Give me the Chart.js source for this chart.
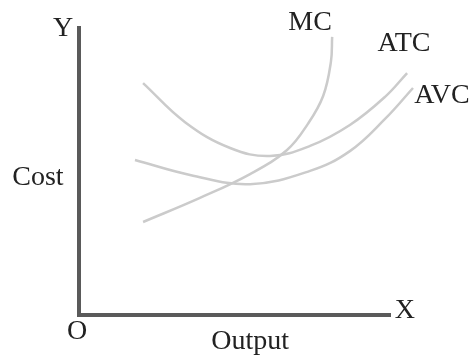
<!DOCTYPE html>
<html>
<head>
<meta charset="utf-8">
<script src="https://cdn.jsdelivr.net/npm/chart.js@4"></script>
<style>
    html, body { margin: 0; padding: 0; background: #fff; }
    #wrap { width: 471px; height: 360px; position: relative; }
</style>
</head>
<body>
<div id="wrap"><canvas id="myChart"></canvas></div>
<script>
// cost curves, output on x, cost on y
const atcOutput = [2.06, 3.41, 4.86, 6.14, 7.43, 8.71, 9.84, 10.55];
const atcCost   = [8.08, 6.72, 5.82, 5.54, 5.89, 6.62, 7.60, 8.43];

const avcOutput = [1.80, 3.57, 5.50, 7.43, 8.71, 9.84, 10.74];
const avcCost   = [5.40, 4.88, 4.56, 5.02, 5.71, 6.83, 7.91];

const mcOutput = [2.06, 3.89, 5.50, 6.69, 7.36, 7.85, 8.10, 8.14];
const mcCost   = [3.24, 4.08, 4.91, 5.75, 6.66, 7.63, 8.82, 9.69];

const curveNames = ["ATC", "AVC", "MC"];
const axisTexts = ["Y", "X", "O", "Output", "Cost"];

const toPoints = (xs, ys) => xs.map((x, i) => ({ x: x, y: ys[i] }));

// where each text sits, in chart units
const textSpots = {
    "MC": [7.43, 10.2],
    "ATC": [10.45, 9.44],
    "AVC": [11.67, 7.63],
    "Y": [-0.51, 9.98],
    "X": [10.48, 0.14],
    "O": [-0.06, -0.59],
    "Output": [5.5, -0.94],
    "Cost": [-1.32, 4.77]
};

const textPlugin = {
    id: 'texts',
    afterDraw(chart) {
        const ctx = chart.ctx;
        const xs = chart.scales.x, ys = chart.scales.y;
        ctx.save();
        ctx.fillStyle = '#222';
        ctx.font = '28px "Liberation Serif"';
        ctx.textAlign = 'center';
        ctx.textBaseline = 'middle';
        curveNames.concat(axisTexts).forEach(t => {
            const p = textSpots[t];
            ctx.fillText(t, xs.getPixelForValue(p[0]), ys.getPixelForValue(p[1]));
        });
        ctx.restore();
    }
};

const lineStyle = {
    borderColor: '#cbcbcb',
    borderWidth: 2.5,
    pointRadius: 0,
    tension: 0.4,
    fill: false,
    clip: false
};

// fixed range without user bounds, so curves can run past the axis end
const fixRange = (s) => { s.min = 0; s.max = 10; };

const ctx = document.getElementById('myChart').getContext('2d');
new Chart(ctx, {
    type: 'line',
    data: {
        datasets: [
            { label: curveNames[0], data: toPoints(atcOutput, atcCost), ...lineStyle },
            { label: curveNames[1], data: toPoints(avcOutput, avcCost), ...lineStyle },
            { label: curveNames[2], data: toPoints(mcOutput, mcCost), ...lineStyle }
        ]
    },
    options: {
        responsive: true,
        maintainAspectRatio: false,
        animation: false,
        layout: {
            padding: { left: 79, right: 81, top: 28, bottom: 45 }
        },
        plugins: {
            legend: { display: false },
            tooltip: { enabled: false }
        },
        scales: {
            x: {
                type: 'linear',
                afterDataLimits: fixRange,
                ticks: { display: false },
                grid: { display: false, drawTicks: false },
                border: { display: true, color: '#5a5a5a', width: 4 }
            },
            y: {
                type: 'linear',
                afterDataLimits: fixRange,
                ticks: { display: false },
                grid: { display: false, drawTicks: false },
                border: { display: true, color: '#5a5a5a', width: 4 }
            }
        }
    },
    plugins: [textPlugin]
});
</script>
</body>
</html>
